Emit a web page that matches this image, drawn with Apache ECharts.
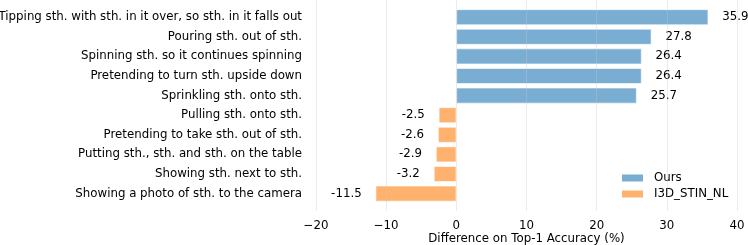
<!DOCTYPE html>
<html><head><meta charset="utf-8">
<script src="https://cdn.jsdelivr.net/npm/echarts@6/dist/echarts.min.js"></script>
<style>html,body{margin:0;padding:0;background:#fff}#c{width:748px;height:245px}</style>
</head><body><div id="c"></div>
<script>
const categories = [
  "Tipping sth. with sth. in it over, so sth. in it falls out",
  "Pouring sth. out of sth.",
  "Spinning sth. so it continues spinning",
  "Pretending to turn sth. upside down",
  "Sprinkling sth. onto sth.",
  "Pulling sth. onto sth.",
  "Pretending to take sth. out of sth.",
  "Putting sth., sth. and sth. on the table",
  "Showing sth. next to sth.",
  "Showing a photo of sth. to the camera"
];
const oursValues = [35.9, 27.8, 26.4, 26.4, 25.7, null, null, null, null, null];
const i3dValues = [null, null, null, null, null, -2.5, -2.6, -2.9, -3.2, -11.5];
const xTicks = [-20, -10, 0, 10, 20, 30, 40];

const FONT = 'DejaVu Sans';
const FS = 11.8;
const chart = echarts.init(document.getElementById('c'), null, {renderer: 'canvas'});
const L = 316, W = 421;
chart.setOption({
  animation: false,
  textStyle: {fontFamily: FONT},
  grid: [
    {left: L, width: W, top: 7.4, height: 196, containLabel: false, outerBoundsMode: 'none'},
    {left: L, width: W, top: 0, height: 211, containLabel: false, outerBoundsMode: 'none'}
  ],
  legend: {
    orient: 'vertical', left: 615, top: 167, itemWidth: 23, itemHeight: 9, itemGap: 4,
    icon: 'rect',
    textStyle: {fontFamily: FONT, fontSize: FS, color: '#000', padding: [0,0,0,5]},
    data: ['Ours', 'I3D_STIN_NL']
  },
  xAxis: [
    {gridIndex: 0, type: 'value', min: xTicks[0], max: xTicks[xTicks.length-1], interval: 10,
     axisLine: {show: false}, axisTick: {show: false}, axisLabel: {show: false}, splitLine: {show: false}},
    {gridIndex: 1, type: 'value', min: xTicks[0], max: xTicks[xTicks.length-1], interval: 10, z: 5,
     axisLine: {show: false}, axisTick: {show: false},
     axisLabel: {fontFamily: FONT, fontSize: FS, color: '#000', margin: 9,
       formatter: v => (v < 0 ? '\u2212' + Math.abs(v) : String(v))},
     splitLine: {show: true, lineStyle: {color: 'rgba(200,200,200,0.35)', width: 1}},
     name: 'Difference on Top-1 Accuracy (%)', nameLocation: 'middle', nameGap: 22,
     nameMoveOverlap: false,
     nameTextStyle: {fontFamily: FONT, fontSize: FS, color: '#000'}}
  ],
  yAxis: [
    {gridIndex: 0, type: 'category', data: categories, inverse: true,
     axisLine: {show: false}, axisTick: {show: false},
     axisLabel: {fontFamily: FONT, fontSize: FS, color: '#000', margin: 14}},
    {gridIndex: 1, type: 'value', min: 0, max: 1, show: false}
  ],
  series: [
    {name: 'Ours', type: 'bar', xAxisIndex: 0, yAxisIndex: 0, data: oursValues,
     barWidth: '80%', barGap: '-100%',
     itemStyle: {color: '#79add2', borderColor: '#ffffff', borderWidth: 0.6},
     label: {show: true, position: 'right', distance: 14, fontFamily: FONT, fontSize: FS, color: '#000',
       formatter: p => p.value.toFixed(1)}},
    {name: 'I3D_STIN_NL', type: 'bar', xAxisIndex: 0, yAxisIndex: 0, data: i3dValues,
     barWidth: '80%', barGap: '-100%',
     itemStyle: {color: '#ffb26e', borderColor: '#ffffff', borderWidth: 0.6},
     label: {show: true, position: 'left', distance: 14, fontFamily: FONT, fontSize: FS, color: '#000',
       formatter: p => p.value.toFixed(1)}}
  ]
});
</script></body></html>
